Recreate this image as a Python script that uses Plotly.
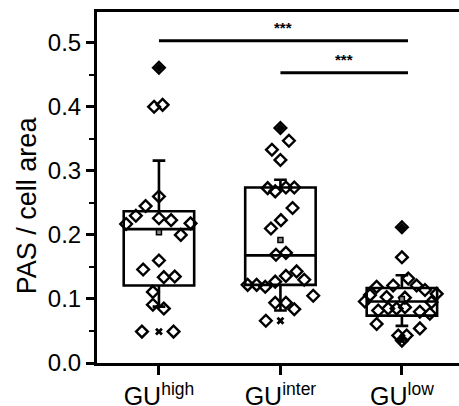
import plotly.graph_objects as go

# ---------------- data ----------------
categories = ["GU<sup>high</sup>", "GU<sup>inter</sup>", "GU<sup>low</sup>"]

high_values = [0.461, 0.403, 0.400, 0.260, 0.245, 0.230, 0.217, 0.226, 0.223, 0.218,
               0.200, 0.146, 0.160, 0.134, 0.135, 0.111, 0.091, 0.085, 0.049, 0.049]
high_jitter = [0.0, 0.03, -0.04, 0.0, -0.11, -0.19, -0.27, 0.0, 0.10, 0.26,
               0.18, -0.13, 0.0, 0.04, 0.13, -0.05, -0.05, 0.04, -0.14, 0.12]

inter_values = [0.367, 0.347, 0.333, 0.317, 0.273, 0.268, 0.274, 0.274, 0.242, 0.223,
                0.210, 0.169, 0.172, 0.122, 0.122, 0.119, 0.127, 0.136, 0.143, 0.130,
                0.105, 0.094, 0.094, 0.084, 0.066]
inter_jitter = [0.0, 0.07, -0.07, 0.0, -0.105, -0.043, 0.045, 0.114, 0.10, 0.004,
                -0.078, -0.037, 0.045, -0.27, -0.196, -0.125, -0.043, 0.045, 0.133, 0.196,
                0.27, -0.043, 0.045, 0.114, -0.12]

low_values = [0.212, 0.165, 0.119, 0.121, 0.132, 0.121, 0.114, 0.108, 0.106, 0.096,
              0.103, 0.102, 0.095, 0.082, 0.085, 0.085, 0.087, 0.080, 0.077, 0.061,
              0.054, 0.043, 0.043, 0.035]
low_jitter = [0.0, 0.0, -0.208, -0.072, 0.052, 0.121, 0.19, 0.286, -0.263, -0.305,
              -0.126, 0.025, 0.244, -0.195, -0.113, -0.044, 0.025, 0.148, 0.23, -0.208,
              0.148, -0.03, 0.039, 0.0]

q1_vals = [0.121, 0.122, 0.074]
median_vals = [0.209, 0.168, 0.096]
q3_vals = [0.237, 0.274, 0.117]
lower_whisker = [0.088, 0.082, 0.058]
upper_whisker = [0.316, 0.286, 0.137]
mean_vals = [0.204, 0.192, 0.100]
min_vals = [0.049, 0.066, 0.035]
max_vals = [0.461, 0.367, 0.212]

sig_pairs = [(0, 2), (1, 2)]
sig_heights = [0.503, 0.453]
sig_labels = ["***", "***"]

y_ticks = [0.0, 0.1, 0.2, 0.3, 0.4, 0.5]

# ---------------- figure ----------------
FONT = "Arial, Liberation Sans, Helvetica, sans-serif"
positions = [0, 1, 2]
fig = go.Figure()

fig.add_trace(go.Box(
    x=positions, q1=q1_vals, median=median_vals, q3=q3_vals,
    lowerfence=lower_whisker, upperfence=upper_whisker,
    width=0.58, whiskerwidth=0.18, boxpoints=False,
    fillcolor="rgba(0,0,0,0)", line=dict(color="black", width=2.6),
    showlegend=False, hoverinfo="skip",
))

groups = [(high_values, high_jitter), (inter_values, inter_jitter), (low_values, low_jitter)]
for pos, (vals, jit) in zip(positions, groups):
    fig.add_trace(go.Scatter(
        x=[pos + j for j in jit], y=vals, mode="markers",
        marker=dict(symbol="diamond-open", size=9, color="black", line=dict(width=2.4)),
        showlegend=False, hoverinfo="skip",
    ))

fig.add_trace(go.Scatter(
    x=positions, y=mean_vals, mode="markers",
    marker=dict(symbol="square", size=5, color="#888888", line=dict(width=1.5, color="black")),
    showlegend=False, hoverinfo="skip",
))
fig.add_trace(go.Scatter(
    x=positions, y=min_vals, mode="markers",
    marker=dict(symbol="x", size=7, color="black", line=dict(width=0)),
    showlegend=False, hoverinfo="skip",
))
fig.add_trace(go.Scatter(
    x=positions, y=max_vals, mode="markers",
    marker=dict(symbol="diamond", size=7, color="black", line=dict(width=0)),
    showlegend=False, hoverinfo="skip",
))

for (a, b), h, lab in zip(sig_pairs, sig_heights, sig_labels):
    fig.add_shape(type="line", xref="x", yref="y", x0=a, x1=b + 0.05, y0=h, y1=h,
                  line=dict(color="black", width=3))
    fig.add_annotation(x=(a + b + 0.05) / 2, y=h, xref="x", yref="y", text="<b>" + lab + "</b>",
                       showarrow=False, yanchor="bottom", yshift=3,
                       font=dict(family=FONT, size=15, color="black"))

fig.add_annotation(text="PAS / cell area", xref="paper", yref="paper", x=-0.193, y=0.45,
                   textangle=-90, showarrow=False, xanchor="center", yanchor="middle",
                   font=dict(family=FONT, size=27, color="black"))

fig.update_layout(
    width=459, height=406,
    margin=dict(l=97, r=0, t=12, b=43, pad=0, autoexpand=False),
    plot_bgcolor="white", paper_bgcolor="white",
    font=dict(family=FONT, color="black"),
)
fig.update_xaxes(
    automargin=False,
    range=[-0.51, 2.47], tickvals=positions, ticktext=categories,
    showline=True, linecolor="black", linewidth=3, mirror=True,
    ticks="outside", ticklen=9, tickwidth=3, tickcolor="black",
    showgrid=False, zeroline=False, tickfont=dict(family=FONT, size=25),
)
fig.update_yaxes(
    automargin=False,
    range=[0, 0.548], tickvals=y_ticks, ticktext=[f"{v:.1f}" for v in y_ticks],
    showline=True, linecolor="black", linewidth=3, mirror=False,
    ticks="outside", ticklen=8, tickwidth=3, tickcolor="black",
    minor=dict(dtick=0.05, tick0=0, ticks="outside", ticklen=5, tickwidth=2, tickcolor="black"),
    showgrid=False, zeroline=False, tickfont=dict(family=FONT, size=24),
)

fig.write_html(
    "out.html",
    config={"displayModeBar": False},
    post_script="document.body.style.margin='0';document.body.style.overflow='hidden';",
)
